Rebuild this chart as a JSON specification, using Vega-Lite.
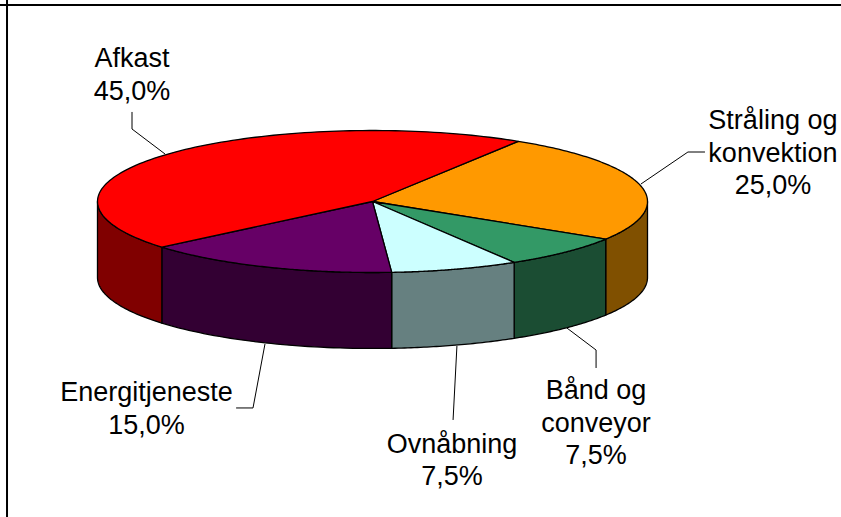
{
  "$schema": "https://vega.github.io/schema/vega-lite/v6.json",
  "width": 841,
  "height": 517,
  "autosize": "none",
  "padding": 0,
  "background": "white",
  "view": {"stroke": null},
  "data": {
    "values": [
      {"label": "Stråling og\nkonvektion", "value": 25.0, "top": "#FF9900", "side": "#805000"},
      {"label": "Bånd og\nconveyor", "value": 7.5, "top": "#339966", "side": "#1B4D33"},
      {"label": "Ovnåbning", "value": 7.5, "top": "#CCFFFF", "side": "#668080"},
      {"label": "Energitjeneste", "value": 15.0, "top": "#660066", "side": "#330033"},
      {"label": "Afkast", "value": 45.0, "top": "#FF0000", "side": "#800000"}
    ]
  },
  "transform": [
    {"window": [{"op": "sum", "field": "value", "as": "cum"}]},
    {"calculate": "32 + 3.6 * (datum.cum - datum.value)", "as": "a0"},
    {"calculate": "32 + 3.6 * datum.cum", "as": "a1"}
  ],
  "encoding": {
    "x": {"type": "quantitative", "scale": {"domain": [-1.3545, 1.7036], "nice": false, "zero": false}, "axis": null},
    "y": {"type": "quantitative", "scale": {"domain": [-4.4437, 2.838], "nice": false, "zero": false}, "axis": null}
  },
  "layer": [
    {
      "description": "Frame along the top and left of the chart",
      "data": {"values": [{"frame": 1}]},
      "transform": [],
      "mark": {"type": "rule", "stroke": "#000000", "strokeWidth": 2},
      "encoding": {"x": {"datum": -1.329}}
    },
    {
      "data": {"values": [{"frame": 1}]},
      "transform": [],
      "mark": {"type": "rule", "stroke": "#000000", "strokeWidth": 2},
      "encoding": {"y": {"datum": 2.767}}
    },
    {
      "description": "Rim of the disc: the part of each slice facing the viewer, between 90 and 270 degrees",
      "transform": [
        {"filter": "datum.a1 > 90 && datum.a0 < 270"},
        {"calculate": "max(datum.a0, 90)", "as": "s0"},
        {"calculate": "min(datum.a1, 270)", "as": "s1"},
        {"calculate": "sequence(0, 82)", "as": "i"},
        {"flatten": ["i"]},
        {"calculate": "datum.i <= 40 ? datum.i / 40 : (81 - datum.i) / 40", "as": "t"},
        {"calculate": "(datum.s0 + datum.t * (datum.s1 - datum.s0)) * PI / 180", "as": "th"},
        {"calculate": "sin(datum.th)", "as": "px"},
        {"calculate": "cos(datum.th) - (datum.i <= 40 ? 0 : 1.07)", "as": "py"}
      ],
      "mark": {"type": "line", "interpolate": "linear-closed", "stroke": "#000000", "strokeWidth": 1.3, "strokeJoin": "round", "filled": true},
      "encoding": {
        "x": {"field": "px", "type": "quantitative"},
        "y": {"field": "py", "type": "quantitative"},
        "order": {"field": "i", "type": "quantitative"},
        "detail": {"field": "label"},
        "fill": {"field": "side", "type": "nominal", "scale": null}
      }
    },
    {
      "description": "Top face of the disc: one wedge per slice, swept in proportion to its value",
      "transform": [
        {"calculate": "sequence(0, 122)", "as": "i"},
        {"flatten": ["i"]},
        {"calculate": "(datum.a0 + (datum.i - 1) / 119 * (datum.a1 - datum.a0)) * PI / 180", "as": "th"},
        {"calculate": "datum.i == 0 || datum.i == 121 ? 0 : sin(datum.th)", "as": "px"},
        {"calculate": "datum.i == 0 || datum.i == 121 ? 0 : cos(datum.th)", "as": "py"}
      ],
      "mark": {"type": "line", "interpolate": "linear-closed", "stroke": "#000000", "strokeWidth": 1.3, "strokeJoin": "round", "filled": true},
      "encoding": {
        "x": {"field": "px", "type": "quantitative"},
        "y": {"field": "py", "type": "quantitative"},
        "order": {"field": "i", "type": "quantitative"},
        "detail": {"field": "label"},
        "fill": {"field": "top", "type": "nominal", "scale": null}
      }
    },
    {
      "description": "Leader lines from each label to its slice",
      "transform": [
        {"calculate": "{'Afkast': [[-0.8745, 1.261], [-0.8745, 1.021], [-0.7545, 0.669]], 'Stråling og\\nkonvektion': [[1.209, 0.697], [1.147, 0.697], [0.976, 0.246]], 'Energitjeneste': [[-0.496, -2.908], [-0.4345, -2.908], [-0.391, -2.007]], 'Ovnåbning': [[0.293, -3.077], [0.307, -2.035]], 'Bånd og\\nconveyor': [[0.813, -2.345], [0.813, -2.092], [0.707, -1.782]]}[datum.label]", "as": "pts"},
        {"flatten": ["pts"]},
        {"window": [{"op": "row_number", "as": "n"}], "groupby": ["label"]},
        {"calculate": "datum.pts[0]", "as": "px"},
        {"calculate": "datum.pts[1]", "as": "py"}
      ],
      "mark": {"type": "line", "stroke": "#000000", "strokeWidth": 1, "interpolate": "linear"},
      "encoding": {
        "x": {"field": "px", "type": "quantitative"},
        "y": {"field": "py", "type": "quantitative"},
        "order": {"field": "n", "type": "quantitative"},
        "detail": {"field": "label"}
      }
    },
    {
      "description": "Slice name and share, with a Danish decimal comma",
      "transform": [
        {"calculate": "{'Afkast': [-0.8745, 1.894], 'Stråling og\\nkonvektion': [1.456, 1.021], 'Bånd og\\nconveyor': [0.813, -2.782], 'Ovnåbning': [0.289, -3.542], 'Energitjeneste': [-0.822, -2.81]}[datum.label]", "as": "anchor"},
        {"calculate": "datum.anchor[0]", "as": "px"},
        {"calculate": "datum.anchor[1]", "as": "py"},
        {"calculate": "datum.label + '\\n' + replace(format(datum.value, '.1f'), '.', ',') + '%'", "as": "caption"}
      ],
      "mark": {"type": "text", "font": "Liberation Sans", "fontSize": 27, "lineHeight": 32.5, "lineBreak": "\n", "align": "center", "baseline": "alphabetic", "color": "#000000"},
      "encoding": {
        "x": {"field": "px", "type": "quantitative"},
        "y": {"field": "py", "type": "quantitative"},
        "text": {"field": "caption"}
      }
    }
  ]
}
